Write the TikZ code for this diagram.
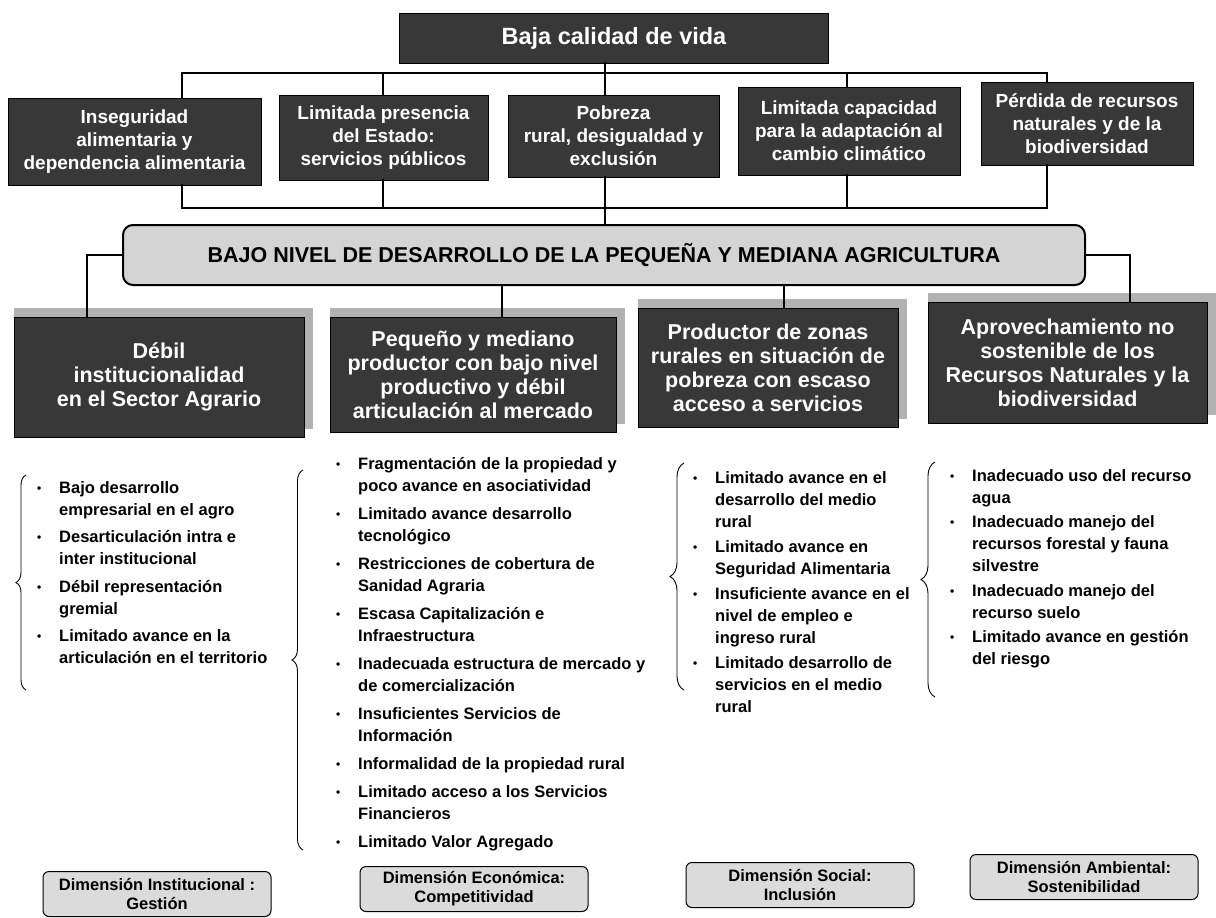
\documentclass[tikz,border=0pt]{standalone}
\usepackage{fontspec}
\setmainfont{Liberation Sans}
\usepackage{tikz}
\usetikzlibrary{positioning,backgrounds,decorations.pathreplacing}

\newcommand{\fs}[2]{\fontsize{#1}{#2}\selectfont}
\newcommand{\bul}{\makebox[22pt][l]{\raisebox{1pt}{\fs{12}{12}\textbullet}}}
\newcommand{\cont}{\hspace*{22pt}}

\begin{document}
\begin{tikzpicture}[x=1pt, y=-1pt,
  darkbox/.style={draw=black, line width=1pt, fill=black!78, text=white, align=center, inner sep=0pt, font=\bfseries\fs{19}{23}},
  bigbox/.style={darkbox, font=\bfseries\fs{21.5}{24}},
  shade/.style={fill=black!30},
  banner/.style={draw=black, line width=2pt, rounded corners=10pt, fill=black!17, inner sep=0pt, font=\bfseries\fs{21.5}{24}},
  dimbox/.style={draw=black, line width=1pt, rounded corners=6pt, fill=black!14, align=center, inner sep=0pt, minimum width=228pt, minimum height=45pt, font=\bfseries\fs{16.5}{19}},
  conn/.style={line width=2.5pt, line cap=rect},
  brc/.style={decorate, decoration={brace, amplitude=#1}, line width=0.9pt},
  lista/.style={anchor=north west, inner sep=0pt, align=left, font=\bfseries\fs{16.5}{22}}
]
\useasboundingbox (0,0) rectangle (1216,918);

\node [darkbox, minimum width=429pt, minimum height=50pt, font=\bfseries\fs{23.5}{26}] (top) at (614,38) {Baja calidad de vida};

\node [darkbox, minimum width=253pt, minimum height=87pt] (r1) at (134.5,141.5) {Inseguridad\\ alimentaria y\\ dependencia alimentaria};
\node [darkbox, minimum width=209pt, minimum height=85pt] (r2) at (383.5,137.5) {Limitada presencia\\ del Estado:\\ servicios públicos};
\node [darkbox, minimum width=211pt, minimum height=82pt] (r3) at (613.5,136) {Pobreza\\ rural, desigualdad y\\ exclusión};
\node [darkbox, minimum width=222pt, minimum height=88pt] (r4) at (849,131) {Limitada capacidad\\ para la adaptación al\\ cambio climático};
\node [darkbox, minimum width=212pt, minimum height=83pt] (r5) at (1087,123.5) {Pérdida de recursos\\ naturales y de la\\ biodiversidad};

\node [banner, minimum width=962pt, minimum height=60pt] (ban) at (604,255) {BAJO NIVEL DE DESARROLLO DE LA PEQUEÑA Y MEDIANA AGRICULTURA};

\node [bigbox, minimum width=290pt, minimum height=120pt] (b1) at (159,377) {Débil\\ institucionalidad\\ en el Sector Agrario};
\node [bigbox, minimum width=286pt, minimum height=115pt] (b2) at (473,374.5) {Pequeño y mediano\\ productor con bajo nivel\\ productivo y débil\\ articulación al mercado};
\node [bigbox, minimum width=260pt, minimum height=119pt] (b3) at (768,367.5) {Productor de zonas\\ rurales en situación de\\ pobreza con escaso\\ acceso a servicios};
\node [bigbox, minimum width=279pt, minimum height=121pt] (b4) at (1067.5,362.5) {Aprovechamiento no\\ sostenible de los\\ Recursos Naturales y la\\ biodiversidad};

% grey shadow behind the four big boxes
\begin{scope}[on background layer]
\foreach \i in {1,...,4}
  \fill [shade] ([yshift=9pt]b\i.north west) rectangle ([shift={(8pt,9pt)}]b\i.south east);
\end{scope}

% connectors
\coordinate (upbar) at (0,73);
\coordinate (lowbar) at (0,208);
\coordinate (k1) at (182,0);
\coordinate (k2) at (383,0);
\coordinate (k3) at (605,0);
\coordinate (k4) at (847,0);
\coordinate (k5) at (1047,0);
\draw [conn] (k3 |- top.south) -- (k3 |- upbar);
\draw [conn] (k1 |- upbar) -- (k5 |- upbar);
\draw [conn] (k1 |- lowbar) -- (k5 |- lowbar);
\foreach \i in {1,...,5} {
  \draw [conn] (k\i |- upbar) -- (k\i |- r\i.north);
  \draw [conn] (k\i |- r\i.south) -- (k\i |- lowbar);
}
\draw [conn] (k3 |- lowbar) -- (k3 |- ban.north);

\coordinate (m1) at (87,0);
\coordinate (m2) at (502,0);
\coordinate (m3) at (784,0);
\coordinate (m4) at (1130,0);
\draw [conn] (ban.west) -| (m1 |- b1.north);
\draw [conn] (m2 |- ban.south) -- (m2 |- b2.north);
\draw [conn] (m3 |- ban.south) -- (m3 |- b3.north);
\draw [conn] (ban.east) -| (m4 |- b4.north);

\node [lista] (l1) at (37,481) {\bul Bajo desarrollo\\ \cont empresarial en el agro\\[5.5pt]
\bul Desarticulación intra e\\ \cont inter institucional\\[5.5pt]
\bul Débil representación\\ \cont gremial\\[5.5pt]
\bul Limitado avance en la\\ \cont articulación en el territorio};

\node [lista] (l2) at (336,457) {\bul Fragmentación de la propiedad y\\ \cont poco avance en asociatividad\\[6pt]
\bul Limitado avance desarrollo\\ \cont tecnológico\\[6pt]
\bul Restricciones de cobertura de\\ \cont Sanidad Agraria\\[6pt]
\bul Escasa Capitalización e\\ \cont Infraestructura\\[6pt]
\bul Inadecuada estructura de mercado y\\ \cont de comercialización\\[6pt]
\bul Insuficientes Servicios de\\ \cont Información\\[6pt]
\bul Informalidad de la propiedad rural\\[6pt]
\bul Limitado acceso a los Servicios\\ \cont Financieros\\[6pt]
\bul Limitado Valor Agregado};

\node [lista] (l3) at (693,471) {\bul Limitado avance en el\\ \cont desarrollo del medio\\ \cont rural\\[3pt]
\bul Limitado avance en\\ \cont Seguridad Alimentaria\\[3pt]
\bul Insuficiente avance en el\\ \cont nivel de empleo e\\ \cont ingreso rural\\[3pt]
\bul Limitado desarrollo de\\ \cont servicios en el medio\\ \cont rural};

\node [lista] (l4) at (950,469) {\bul Inadecuado uso del recurso\\ \cont agua\\[2.5pt]
\bul Inadecuado manejo del\\ \cont recursos forestal y fauna\\ \cont silvestre\\[2.5pt]
\bul Inadecuado manejo del\\ \cont recurso suelo\\[2.5pt]
\bul Limitado avance en gestión\\ \cont del riesgo};

\coordinate (br1a) at (26,690);  \coordinate (br1b) at (26,475);
\coordinate (br2a) at (303,850); \coordinate (br2b) at (303,470);
\coordinate (br3a) at (684,690); \coordinate (br3b) at (684,463);
\coordinate (br4a) at (935,697); \coordinate (br4b) at (935,462);
\draw [brc=10pt] (br1a) -- (br1b);
\draw [brc=11pt] (br2a) -- (br2b);
\draw [brc=14pt] (br3a) -- (br3b);
\draw [brc=14pt] (br4a) -- (br4b);

\node [dimbox] (d1) at (157,894) {Dimensión Institucional :\\ Gestión};
\node [dimbox] (d2) at (474,889) {Dimensión Económica:\\ Competitividad};
\node [dimbox] (d3) at (800,885) {Dimensión Social:\\ Inclusión};
\node [dimbox] (d4) at (1084,877) {Dimensión Ambiental:\\ Sostenibilidad};
\end{tikzpicture}
\end{document}
